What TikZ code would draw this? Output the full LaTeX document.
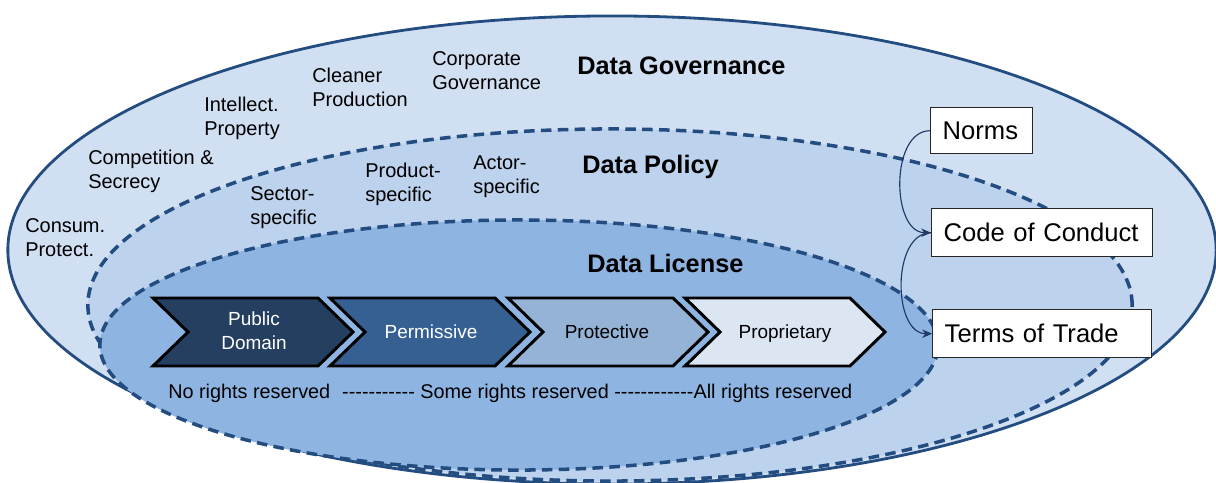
\documentclass[tikz,border=0pt]{standalone}
\usepackage{fontspec}
\setmainfont{Liberation Sans}
\usetikzlibrary{arrows.meta}
\definecolor{govfill}{RGB}{209,223,242}
\definecolor{polfill}{RGB}{188,210,237}
\definecolor{licfill}{RGB}{142,180,226}
\definecolor{rimblue}{RGB}{35,76,128}
\definecolor{pubdom}{RGB}{37,63,96}
\definecolor{permis}{RGB}{55,96,146}
\definecolor{protec}{RGB}{149,179,215}
\definecolor{propri}{RGB}{220,230,242}
\definecolor{linkblue}{RGB}{31,56,100}

\begin{document}
\begin{tikzpicture}[x=0.025cm, y=-0.025cm,
	lbl/.style={anchor=west, align=left, inner sep=0pt, font=\fontsize{14.2}{17}\selectfont},
	title/.style={anchor=base west, inner sep=0pt, font=\fontsize{18}{21}\selectfont\bfseries},
	instr/.style={draw=black!85, line width=1pt, fill=white, anchor=north west, inner xsep=0.3cm, inner ysep=0pt, align=left, font=\fontsize{18.2}{21}\selectfont},
	chev/.style={draw=black, line width=2.1pt, line join=miter},
	chevtxt/.style={align=center, inner sep=0pt, font=\fontsize{13.5}{17}\selectfont},
	layer/.style={draw=rimblue, line width=2.5pt, dash pattern=on 7.5pt off 4.5pt},
	link/.style={draw=linkblue, line width=0.8pt, -{Stealth[length=7pt,width=6pt]}}]
	\useasboundingbox (0,0) rectangle (1216,482);
	\clip (0,0) rectangle (1216,482);

	\draw[fill=govfill, draw=rimblue, line width=2pt] (612,250) ellipse [x radius=15.1cm, y radius=5.85cm];
	\draw[layer, fill=polfill] (610,305) ellipse [x radius=13.05cm, y radius=4.4cm];
	\draw[layer, fill=licfill] (519,345) ellipse [x radius=10.475cm, y radius=3.125cm];

	\node[title] (gov) at (577,74) {Data Governance};
	\node[title] (pol) at (582,173) {Data Policy};
	\node[title] (lic) at (587,272) {Data License};

	\node[lbl] (consum) at (25,238) {Consum.\\Protect.};
	\node[lbl] (compet) at (88,171) {Competition \&\\Secrecy};
	\node[lbl] (intell) at (204,118) {Intellect.\\Property};
	\node[lbl] (clean) at (312,87) {Cleaner\\Production};
	\node[lbl] (corp) at (432,71) {Corporate\\Governance};
	\node[lbl] (sector) at (250,208) {Sector-\\specific};
	\node[lbl] (product) at (365,184) {Product-\\specific};
	\node[lbl] (actor) at (473,177) {Actor-\\specific};

	\foreach \l/\f in {153/pubdom, 330/permis, 508/protec, 685/propri}
		\draw[chev, fill=\f] (\l,298) -- ({\l+165},298) -- ({\l+200},332) -- ({\l+165},366) -- (\l,366) -- ({\l+35},332) -- cycle;
	\node[chevtxt, text=white] (pubtxt) at (254,331) {Public\\Domain};
	\node[chevtxt, text=white, anchor=base] (permtxt) at (431,338) {Permissive};
	\node[chevtxt, anchor=base] (prottxt) at (607,338) {Protective};
	\node[chevtxt, anchor=base] (proptxt) at (785,338) {Proprietary};

	\node[anchor=base west, inner sep=0pt, font=\fontsize{14.1}{17}\selectfont] (rights) at (168,398) {No rights reserved\hspace{0.3cm}-{}-{}-{}-{}-{}-{}-{}-{}-{}-{}- Some rights reserved -{}-{}-{}-{}-{}-{}-{}-{}-{}-{}-{}-All rights reserved};

	\node[instr, text width=1.95cm, minimum height=1.15cm] (norms) at (930,107) {Norms};
	\node[instr, text width=4.925cm, minimum height=1.2cm] (code) at (931,208) {\mbox{Code of Conduct}};
	\node[instr, text width=4.875cm, minimum height=1.2cm] (terms) at (932,309) {\mbox{Terms of Trade}};

	\draw[link] (norms.west) to[out=180, in=180] (code.west);
	\draw[link] (code.west) to[out=180, in=180] (terms.west);
\end{tikzpicture}
\end{document}
